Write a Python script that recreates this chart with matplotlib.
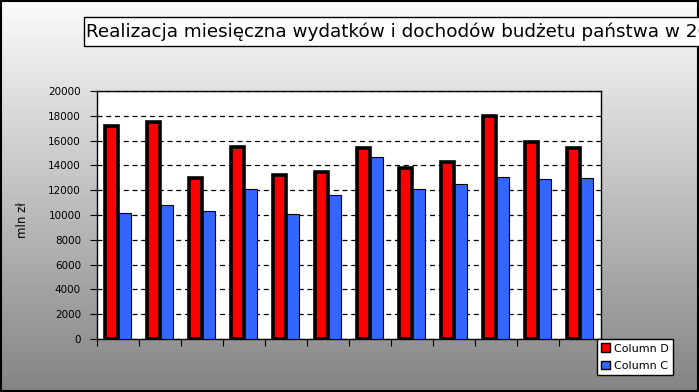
import numpy as np
import matplotlib
matplotlib.use("Agg")
import matplotlib.pyplot as plt
from matplotlib.patches import Rectangle, Patch

months = list(range(1, 13))
column_d = [17200, 17500, 13000, 15500, 13200, 13500, 15400, 13800, 14300, 18000, 15900, 15400]
column_c = [10200, 10800, 10300, 12100, 10100, 11600, 14700, 12100, 12500, 13100, 12900, 13000]
yticks = list(range(0, 20001, 2000))
title = "Realizacja miesięczna wydatków i dochodów budżetu państwa w 2008 r."
ylabel = "mln zł"

W, H = 699, 392
fig = plt.figure(figsize=(W / 100, H / 100), dpi=100)

# background gradient
bg = fig.add_axes([0, 0, 1, 1], zorder=-10)
grad = np.linspace(252, 132, 400)[:, None] / 255.0
img = np.dstack([grad, grad, grad])
bg.imshow(img, aspect="auto", extent=[0, 1, 0, 1], origin="upper")
bg.set_xlim(0, 1); bg.set_ylim(0, 1)
bg.axis("off")
bg.add_patch(Rectangle((0.0008, 0.0015), 0.9984, 0.997, fill=False, edgecolor="black", lw=1.5,
                       transform=bg.transAxes))

# title box (clipped at the right edge as in the original)
bg.add_patch(Rectangle((84 / W, 1 - 46 / H), 1.0, 29 / H, facecolor="white", edgecolor="black",
                       lw=1.0, transform=bg.transAxes, clip_on=False))
fig.text(86 / W, 1 - 31.5 / H, title, fontsize=13.2, va="center", ha="left", family="DejaVu Sans")

ax = fig.add_axes([97 / W, 1 - 339 / H, 504 / W, 248 / H])
ax.set_facecolor("white")
x = np.arange(len(months))
bw = 0.3
ax.bar(x + bw / 2, column_c, width=bw, color="#3366ff", edgecolor="black", linewidth=0.8, zorder=3)
ax.bar(x - bw / 2, column_d, width=bw, color="#ff0000", edgecolor="black", linewidth=2.6, zorder=4)

ax.set_xlim(-0.5, len(months) - 0.5)
ax.set_ylim(0, 20000)
ax.set_yticks(yticks)
ax.set_yticklabels([str(v) for v in yticks], fontsize=7.5)
ax.set_xticks(np.arange(len(months) + 1) - 0.5)
ax.set_xticklabels([])
ax.tick_params(axis="both", direction="out", length=5, width=0.8, color="black")
ax.tick_params(axis="y", pad=6.5)
ax.yaxis.grid(True, linestyle=(0, (4, 3)), color="black", linewidth=0.9, zorder=1)
ax.set_axisbelow(True)
for s in ax.spines.values():
    s.set_linewidth(1.0)
    s.set_color("black")
ax.set_ylabel(ylabel, fontsize=8.5)
ax.yaxis.set_label_coords(-68 / 504, 0.48)

handles = [Patch(facecolor="#ff0000", edgecolor="black", label="Column D"),
           Patch(facecolor="#3366ff", edgecolor="black", label="Column C")]
leg = fig.legend(handles=handles, loc="upper left", bbox_to_anchor=(597 / W, 1 - 339 / H),
                 fontsize=8, frameon=True, fancybox=False, edgecolor="black", framealpha=1,
                 handlelength=0.8, handleheight=0.8, handletextpad=0.3, borderpad=0.4,
                 labelspacing=0.65, borderaxespad=0)
leg.get_frame().set_linewidth(1.0)

fig.savefig("out.png", dpi=100)
